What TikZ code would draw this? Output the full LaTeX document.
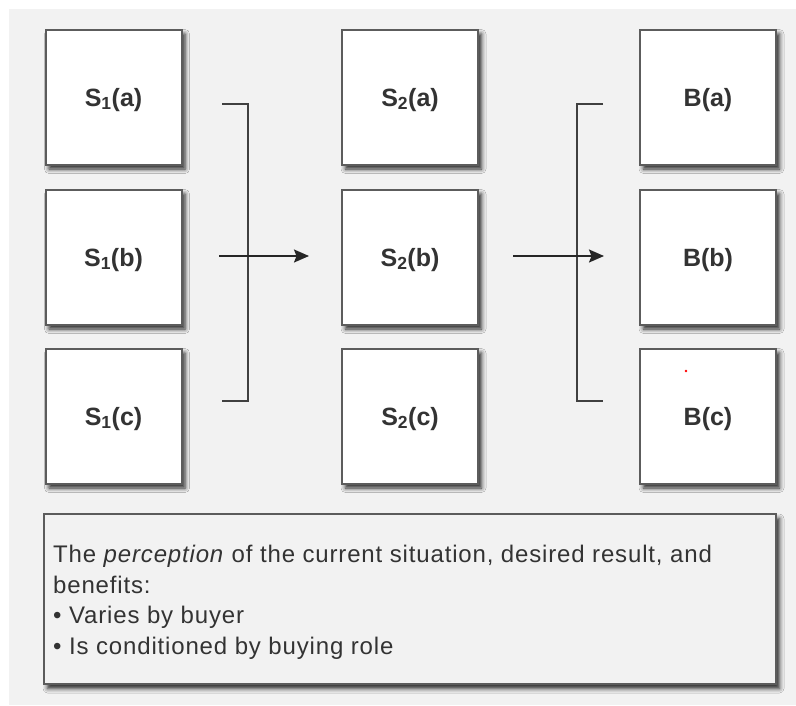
\documentclass[tikz,border=0pt]{standalone}
\usepackage{fontspec}
\setmainfont{Liberation Sans}
\usetikzlibrary{shadows.blur,arrows.meta}
\definecolor{panel}{HTML}{F2F2F2}
\definecolor{edge}{HTML}{5C5C5C}
\definecolor{txt}{HTML}{333333}
\definecolor{linec}{HTML}{404040}
\tikzset{
  box/.style={draw=edge, line width=2pt, fill=white, minimum width=136pt, minimum height=135pt,
    inner sep=0pt, text depth=0pt, font=\bfseries\fontsize{25}{28}\selectfont, text=txt,
    blur shadow={shadow xshift=3.5pt, shadow yshift=-4.5pt, shadow blur radius=4.5pt, shadow opacity=85}},
  notebox/.style={draw=edge, line width=2pt, fill=panel,
    blur shadow={shadow xshift=3.5pt, shadow yshift=-4.5pt, shadow blur radius=4.5pt, shadow opacity=85}},
  brk/.style={draw=linec, line width=1.8pt},
  flow/.style={draw=black!85, line width=1.8pt, -{Stealth[length=15pt,width=13pt,inset=2.5pt]}},
}
\begin{document}
\begin{tikzpicture}[x=1pt,y=-1pt]
\useasboundingbox (0,0) rectangle (796,705);
\fill[white] (0,0) rectangle (796,705);
\fill[panel] (9,9) rectangle (796,705);
% column 1
\node[box] (s1a) at (113.5,97) {S\textsubscript{1}(a)};
\node[box] (s1b) at (113.5,257) {S\textsubscript{1}(b)};
\node[box] (s1c) at (113.5,416) {S\textsubscript{1}(c)};
% column 2
\node[box] (s2a) at (410,97) {S\textsubscript{2}(a)};
\node[box] (s2b) at (410,257) {S\textsubscript{2}(b)};
\node[box] (s2c) at (410,416) {S\textsubscript{2}(c)};
% column 3
\node[box] (ba) at (708,97) {B(a)};
\node[box] (bb) at (708,257) {B(b)};
\node[box] (bc) at (708,416) {B(c)};
% bracket 1
\coordinate (b1t) at (222,104);
\coordinate (b1b) at (222,401);
\coordinate (a1s) at (219,256);
\coordinate (a1e) at (309,256);
\draw[brk] (b1t) -- (248,104) -- (248,401) -- (b1b);
\draw[flow] (a1s) -- (a1e);
% bracket 2
\coordinate (b2t) at (603,104);
\coordinate (b2b) at (603,401);
\coordinate (a2s) at (513,256);
\coordinate (a2e) at (604,256);
\draw[brk] (b2t) -- (577,104) -- (577,401) -- (b2b);
\draw[flow] (a2s) -- (a2e);
% note box
\node[notebox, minimum width=732pt, minimum height=170pt, anchor=north west, inner sep=0pt] (note) at (43,513) {};
\node[anchor=north west, align=left, inner sep=0pt, text=txt,
  font=\fontsize{24}{30.5}\selectfont\addfontfeatures{LetterSpace=3.5}] (desc) at (53,545)
  {The \textit{perception} of the current situation, desired result, and\\
   benefits:\\
   \textbullet\ Varies by buyer\\
   \textbullet\ Is conditioned by buying role};
\fill[red] (686,371) circle (1.3);
\end{tikzpicture}
\end{document}
